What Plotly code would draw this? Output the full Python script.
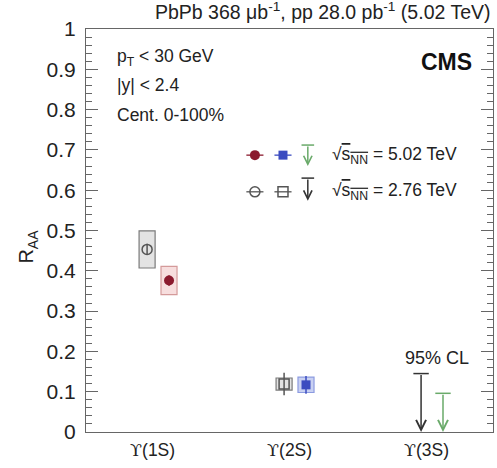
import numpy as np
import plotly.graph_objects as go

# ---------------- data ----------------
states = ["ϒ(1S)", "ϒ(2S)", "ϒ(3S)"]

# 5.02 TeV (1S, 2S measured; 3S upper limit)
raa_502 = [0.376, 0.117]
stat_502 = [0.013, 0.022]
syst_502 = [0.035, 0.019]
limit_502 = 0.096

# 2.76 TeV
raa_276 = [0.453, 0.119]
stat_276 = [0.014, 0.028]
syst_276 = [0.046, 0.015]
limit_276 = 0.145

y_ticks = [0, 0.1, 0.2, 0.3, 0.4, 0.5, 0.6, 0.7, 0.8, 0.9, 1]

# ---------------- styles ----------------
FONT = "Liberation Sans, Arial, sans-serif"
TXT = "#222222"
OFF_276, OFF_502 = -0.08, 0.08
BOXW = 0.117

RED, RED_FILL, RED_EDGE = "#8b1a2e", "#f7dede", "#d49a9a"
BLUE, BLUE_FILL, BLUE_EDGE = "#3b4cc0", "#c9d1f2", "#8c9be0"
GRAY, GRAY_FILL, GRAY_EDGE = "#555555", "#e3e3e3", "#7a7a7a"
GREEN = "#6aaa6a"
BLACK = "#333333"

idx = np.arange(len(states))
x276 = idx + OFF_276
x502 = idx + OFF_502

fig = go.Figure()

# systematic boxes
def box(xs, vals, systs, fill, edge):
    v = np.array(vals); s = np.array(systs)
    fig.add_trace(go.Bar(x=xs, y=2 * s, base=v - s, width=BOXW,
                         marker=dict(color=fill, line=dict(color=edge, width=1.2)),
                         showlegend=False, hoverinfo="skip"))

box([x276[0]], raa_276[:1], syst_276[:1], GRAY_FILL, GRAY_EDGE)
box([x276[1]], raa_276[1:2], syst_276[1:2], GRAY_FILL, GRAY_EDGE)
box([x502[0]], raa_502[:1], syst_502[:1], RED_FILL, RED_EDGE)
box([x502[1]], raa_502[1:2], syst_502[1:2], BLUE_FILL, BLUE_EDGE)

# points with stat errors
def pts(x, y, e, symbol, color, size, open_=False):
    m = dict(symbol=symbol, size=size, color=color)
    if open_:
        m["line"] = dict(color=color, width=1.5)
    fig.add_trace(go.Scatter(x=[x], y=[y], mode="markers", marker=m,
                             error_y=dict(type="data", array=[e], color=color,
                                          thickness=1.5, width=0),
                             showlegend=False, hoverinfo="skip"))

pts(x276[0], raa_276[0], stat_276[0], "circle-open", GRAY, 10, True)
pts(x276[1], raa_276[1], stat_276[1], "square-open", GRAY, 10, True)
pts(x502[0], raa_502[0], stat_502[0], "circle", RED, 10)
pts(x502[1], raa_502[1], stat_502[1], "square", BLUE, 9)

# upper limits: cap + downward arrow
annotations = []
for xv, lim, col in [(x276[2], limit_276, BLACK), (x502[2], limit_502, GREEN)]:
    fig.add_trace(go.Scatter(x=[xv], y=[lim], mode="markers",
                             marker=dict(symbol="line-ew", size=11,
                                         line=dict(color=col, width=1.5)),
                             showlegend=False, hoverinfo="skip"))
    annotations.append(dict(x=xv, y=0, ax=xv, ay=lim, xref="x", yref="y",
                            axref="x", ayref="y", text="", showarrow=True,
                            arrowhead=5, arrowsize=1.3, arrowwidth=1.5,
                            arrowcolor=col, standoff=0))

# ---------------- legend (drawn on overlay axes in plot-fraction units) ----------------
ROW1, ROW2 = 0.687, 0.596
LX = [0.415, 0.484, 0.545]
DX = 0.021
leg = [
    (LX[0], ROW1, "circle", RED, False),
    (LX[1], ROW1, "square", BLUE, False),
    (LX[0], ROW2, "circle-open", GRAY, True),
    (LX[1], ROW2, "square-open", GRAY, True),
]
for lx, ly, sym, col, op in leg:
    fig.add_trace(go.Scatter(x=[lx - DX, lx + DX], y=[ly, ly], mode="lines",
                             line=dict(color=col, width=1.3), xaxis="x2", yaxis="y2",
                             showlegend=False, hoverinfo="skip"))
    m = dict(symbol=sym, size=10 if "circle" in sym else 9, color=col)
    if op:
        m["line"] = dict(color=col, width=1.5)
        m["size"] = 10
    fig.add_trace(go.Scatter(x=[lx], y=[ly], mode="markers", marker=m,
                             xaxis="x2", yaxis="y2", showlegend=False, hoverinfo="skip"))
for ly, top, bot, col in [(ROW1, 0.712, 0.660, GREEN), (ROW2, 0.630, 0.574, BLACK)]:
    fig.add_trace(go.Scatter(x=[LX[2]], y=[top], mode="markers",
                             marker=dict(symbol="line-ew", size=9,
                                         line=dict(color=col, width=1.5)),
                             xaxis="x2", yaxis="y2", showlegend=False, hoverinfo="skip"))
    annotations.append(dict(x=LX[2], y=bot, ax=LX[2], ay=top, xref="x2", yref="y2",
                            axref="x2", ayref="y2", text="", showarrow=True,
                            arrowhead=5, arrowsize=1.1, arrowwidth=1.5,
                            arrowcolor=col, standoff=0))

def txt(x, y, s, size=17, xanchor="left", bold=False, xref="paper", yref="paper"):
    annotations.append(dict(x=x, y=y, xref=xref, yref=yref, text=f"<b>{s}</b>" if bold else s,
                            showarrow=False, xanchor=xanchor, yanchor="middle",
                            font=dict(family=FONT, size=size, color="#111111" if bold else TXT)))

txt(0.600, ROW1, "√<span style='text-decoration:overline'>s<sub>NN</sub></span> = 5.02 TeV", 17.5)
txt(0.600, ROW2, "√<span style='text-decoration:overline'>s<sub>NN</sub></span> = 2.76 TeV", 17.5)
txt(0.071, 0.930, "p<sub>T</sub> &lt; 30 GeV", 17.5)
txt(0.071, 0.861, "|y| &lt; 2.4", 17.5)
txt(0.071, 0.787, "Cent. 0-100%", 17.5)
txt(0.885, 0.918, "CMS", 23, "center", bold=True)
txt(0.862, 0.184, "95% CL", 18, "center")
txt(0.997, 1.045, "PbPb 368 μb<sup>-1</sup>, pp 28.0 pb<sup>-1</sup> (5.02 TeV)", 19.5, "right")
annotations.append(dict(x=-0.1425, y=0.46, xref="paper", yref="paper", text="R<sub>AA</sub>",
                        textangle=-90, showarrow=False, xanchor="center", yanchor="middle",
                        font=dict(family=FONT, size=20, color=TXT)))

UPS = "<span style='font-family:DejaVu Serif'>ϒ</span>"
ticktext = [UPS + s[1:] for s in states]

AXC = "#666666"
fig.update_layout(
    width=497, height=468,
    margin=dict(l=86, r=4, t=29, b=36),
    paper_bgcolor="white", plot_bgcolor="white",
    barmode="overlay", showlegend=False,
    font=dict(family=FONT, color=TXT),
    annotations=annotations,
    xaxis=dict(range=[-0.526, 2.445], tickvals=list(idx - 0.04), ticktext=ticktext,
               showgrid=False, zeroline=False, showline=True, linecolor=AXC,
               linewidth=1.2, mirror=True, ticks="", automargin=False,
               ticklabelstandoff=2, tickfont=dict(size=17.5, color=TXT)),
    yaxis=dict(range=[0, 1], tickvals=y_ticks, ticktext=[f"{v:g}" for v in y_ticks],
               showgrid=False, zeroline=False, showline=True, linecolor=AXC,
               linewidth=1.2, mirror="ticks", ticks="inside", ticklen=12, automargin=False,
               ticklabelstandoff=5,
               tickcolor=AXC, tickwidth=1.2, tickfont=dict(size=21, color=TXT),
               minor=dict(dtick=0.02, ticks="inside", ticklen=6, tickcolor=AXC, tickwidth=1)),
    xaxis2=dict(range=[0, 1], overlaying="x", visible=False, fixedrange=True),
    yaxis2=dict(range=[0, 1], overlaying="y", visible=False, fixedrange=True),
)

fig.write_html("out.html", config={"displayModeBar": False},
               post_script=["document.body.style.margin='0px';"])
